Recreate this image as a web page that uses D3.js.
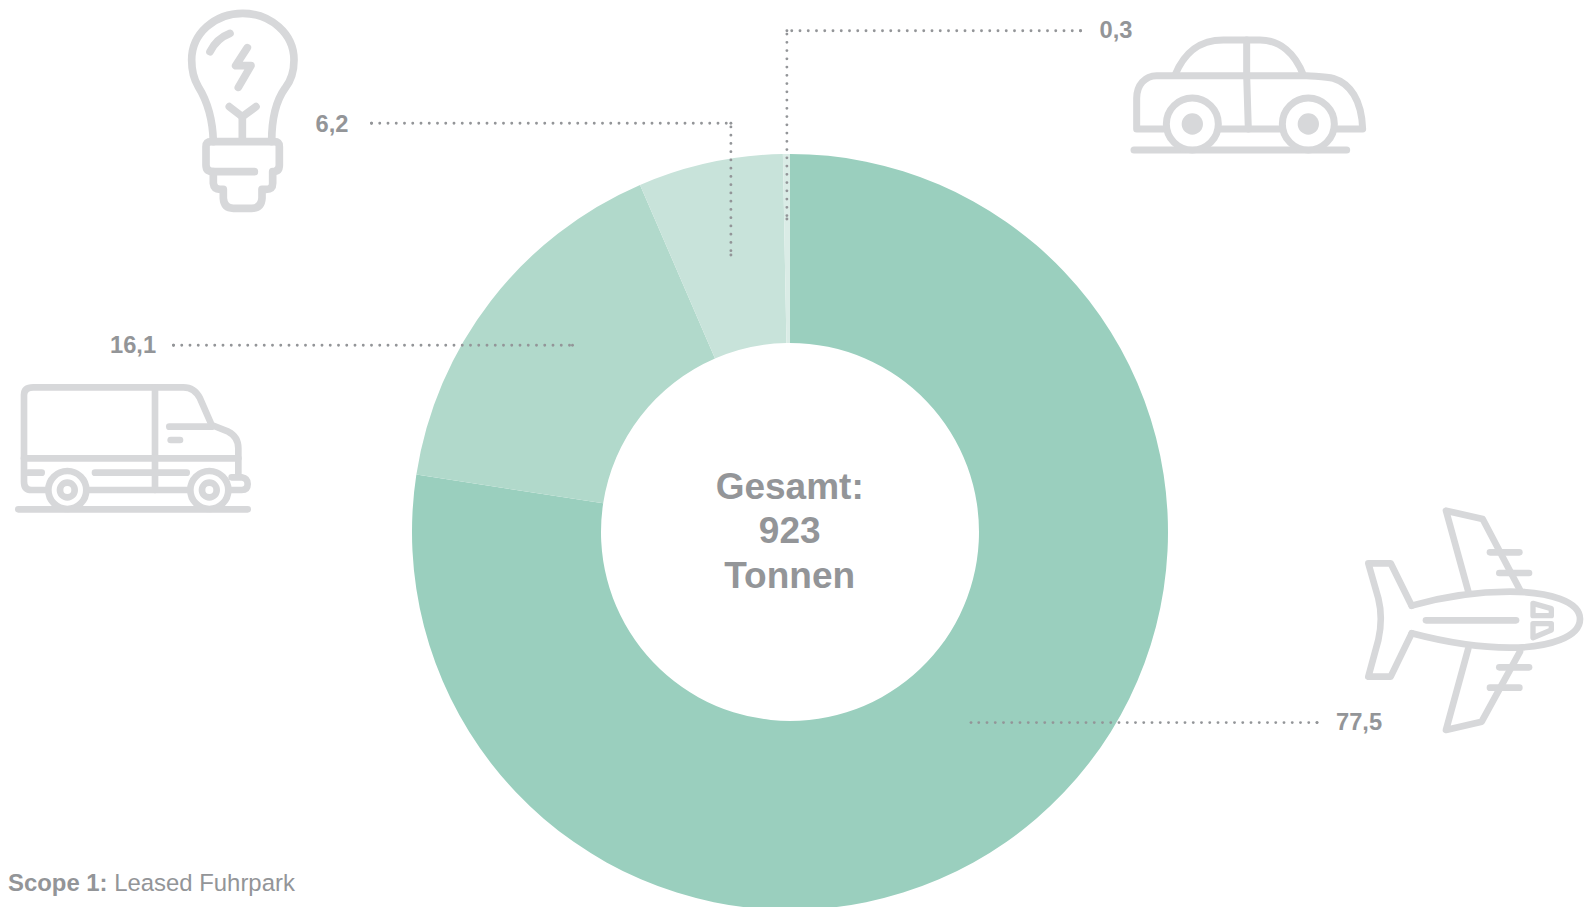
<!DOCTYPE html>
<html><head><meta charset="utf-8">
<style>html,body{margin:0;padding:0;background:#fff;overflow:hidden}svg{display:block}text{font-family:"Liberation Sans",Arial,sans-serif}</style>
<script src="https://cdn.jsdelivr.net/npm/d3@7"></script></head><body>
<script>
const categories = ["Flugzeug","Transporter","Strom","Auto"];
const shares = [77.5,16.1,6.2,0.3];
const colours = ["#9acfbe","#b1d9cb","#c8e3da","#daece6"];
const centerLines = ["Gesamt:","923","Tonnen"];
const W=1591,H=907,cx=790,cy=531.9,outerR=378,innerR=189;
const grey="#939598", iconGrey="#d7d8da";
const svg=d3.select("body").append("svg").attr("width",W).attr("height",H);

const pie=d3.pie().sort(null).startAngle(0).endAngle(2*Math.PI);
const arc=d3.arc().innerRadius(innerR).outerRadius(outerR);
svg.append("g").attr("transform",`translate(${cx},${cy})`)
  .selectAll("path").data(pie(shares)).join("path")
  .attr("d",arc).attr("fill",(d,i)=>colours[i]);

const fmt=v=>String(v).replace(".",",");
const leaderLayout=[
 {pts:[[1317,722.6],[971,722.6]],lx:1336,ly:721},
 {pts:[[173.5,345.3],[572.5,345.3]],lx:110,ly:344.5},
 {pts:[[371.5,123.3],[730.9,123.3],[730.9,255]],lx:315.5,ly:123.3},
 {pts:[[1080.5,30.7],[786.9,30.7],[786.9,219]],lx:1099.5,ly:29.5}
];
const line=d3.line();
svg.append("g").selectAll("path").data(leaderLayout).join("path")
  .attr("d",d=>line(d.pts)).attr("fill","none").attr("stroke",grey)
  .attr("stroke-width",2.9).attr("stroke-linecap","round").attr("stroke-dasharray","0 8.25");
// end and corner dots of each leader
svg.append("g").selectAll("circle").data(leaderLayout.flatMap(l=>l.pts)).join("circle")
  .attr("cx",d=>d[0]).attr("cy",d=>d[1]).attr("r",1.45).attr("fill",grey);
svg.append("g").selectAll("text").data(shares).join("text")
  .attr("x",(d,i)=>leaderLayout[i].lx).attr("y",(d,i)=>leaderLayout[i].ly)
  .attr("dy","0.36em").attr("font-size",23.7).attr("font-weight",700).attr("fill",grey)
  .text(fmt);

svg.append("g").selectAll("text").data(centerLines).join("text")
  .attr("x",cx-0.3).attr("y",(d,i)=>cy-46.4+i*44.6).attr("dy","0.36em")
  .attr("text-anchor","middle").attr("font-size",37).attr("font-weight",700).attr("fill",grey)
  .text(d=>d);

const foot=svg.append("text").attr("x",8).attr("y",891).attr("font-size",23.9).attr("fill",grey);
foot.append("tspan").attr("font-weight",700).text("Scope 1: ");
foot.append("tspan").text("Leased Fuhrpark");

function icon(x,y,sw,paths,circles){
  const g=svg.append("g").attr("transform",`translate(${x},${y}) scale(${1/3})`)
    .attr("fill","none").attr("stroke",iconGrey).attr("stroke-width",sw)
    .attr("stroke-linecap","round").attr("stroke-linejoin","round");
  paths.forEach(p=>{
    const s=typeof p==="string"?{d:p}:p;
    const e=g.append("path").attr("d",s.d);
    if(s.w) e.attr("stroke-width",s.w);
  });
  (circles||[]).forEach(c=>g.append("circle").attr("cx",c[0]).attr("cy",c[1]).attr("r",c[2])
     .attr("fill",c[3]?iconGrey:"#fff").attr("stroke",c[3]?"none":iconGrey));
}
// bulb
icon(170,0,23,[
 "M130,425 C128,350 110,300 85,260 C68,232 65,205 65,180 C65,100 135,40 218,40 C300,40 372,100 372,180 C372,210 365,240 345,265 C320,300 305,350 305,425",
 "M120,155 Q140,115 180,100","M232,143 L197,197 H243 L205,262",
 "M178,320 L217,350 L258,320","M217,350 V420",
 "M125,425 H312 Q328,425 328,440 V495 Q328,515 308,515 V550 Q308,568 288,568 H276 V595 Q274,625 245,625 H190 Q162,625 160,595 V568 H150 Q132,568 130,550 V515 Q108,515 108,495 V440 Q108,425 125,425 Z",
 "M125,515 H253"
]);
// car
icon(1120,20,21,[
 "M165,165 C190,105 230,60 310,60 H420 C480,60 525,100 550,165",
 "M130,327 H50 V235 C50,195 75,167 110,167 H560 C600,170 620,170 640,175 C690,190 725,240 728,327 H650",
 "M300,327 H480","M380,60 V167 L385,327","M42,390 H680"
],[[217,312,78],[565,312,78],[217,312,32,1],[565,312,32,1]]);
// van
icon(0,370,20,[
 "M135,360 H95 Q72,360 72,335 V75 Q72,52 100,52 H550 C575,52 590,65 600,85 L635,165 L685,185 C705,195 715,210 715,235 V320",
 "M72,265 H715","M465,52 V360","M270,360 H565","M508,170 H635","M512,210 H540",
 "M85,308 H125","M285,308 H560",
 "M695,322 H725 Q743,325 743,342 Q743,360 725,360 H690","M55,418 H743"
],[[202,360,57],[628,360,57],[202,360,22],[628,360,22]]);
// plane
icon(1350,495,20,[
 "M185,332 C280,305 380,290 480,290 C600,290 690,320 690,372 C690,425 600,458 480,458 C380,458 280,440 185,415",
 "M185,332 L122,205 H55 L85,310 C95,350 95,390 85,435 L55,545 H122 L185,415",
 "M355,290 L288,47 L398,72 L510,285","M420,172 H508","M448,234 H537",
 "M355,460 L288,705 L395,680 L510,470","M448,517 H537","M420,578 H508",
 "M228,376 H498",
 {d:"M549,325 L604,341 V362 H549 Z",w:16},{d:"M549,386 H604 V405 L549,428 Z",w:16}
]);
</script></body></html>
